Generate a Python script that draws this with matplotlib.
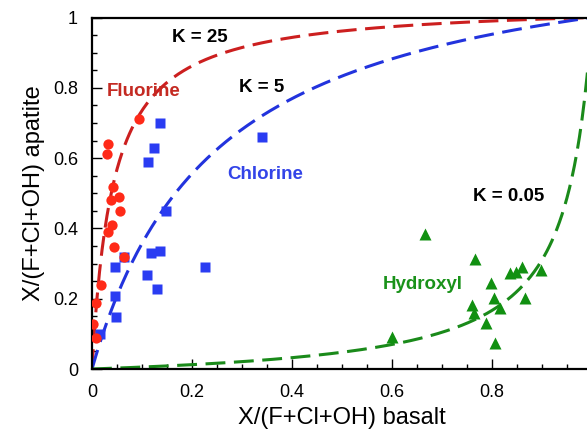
import matplotlib
matplotlib.use("Agg")
import matplotlib.pyplot as plt
import numpy as np

plt.rcParams['font.family'] = ['Liberation Sans', 'DejaVu Sans']

# partition coefficients for the dashed model curves
k_values = [25, 5, 0.05]
k_colors = ['#cc1f1f', '#2233dd', '#1a8a1a']

# Fluorine (red circles)
f_x = [0.094, 0.031, 0.029, 0.041, 0.053, 0.038, 0.055, 0.039, 0.032,
       0.043, 0.063, 0.018, 0.007, 0.001, 0.008]
f_y = [0.710, 0.640, 0.613, 0.518, 0.490, 0.480, 0.450, 0.410, 0.390,
       0.348, 0.320, 0.240, 0.187, 0.127, 0.088]

# Chlorine (blue squares)
cl_x = [0.135, 0.124, 0.111, 0.340, 0.147, 0.135, 0.118, 0.064, 0.046,
        0.226, 0.109, 0.129, 0.045, 0.048, 0.016]
cl_y = [0.700, 0.629, 0.589, 0.661, 0.450, 0.337, 0.330, 0.320, 0.289,
        0.289, 0.268, 0.227, 0.208, 0.147, 0.100]

# Hydroxyl (green triangles)
oh_x = [0.667, 0.766, 0.836, 0.849, 0.861, 0.899, 0.799, 0.804, 0.866,
        0.761, 0.765, 0.816, 0.789, 0.807, 0.601]
oh_y = [0.384, 0.313, 0.272, 0.275, 0.291, 0.282, 0.244, 0.203, 0.203,
        0.182, 0.160, 0.173, 0.130, 0.075, 0.092]

fig = plt.figure(figsize=(5.87, 4.34), dpi=100)
ax = fig.add_axes([92 / 587, 65 / 434, 500 / 587, 351.5 / 434])

xs = np.linspace(0, 1, 400)
for k, c in zip(k_values, k_colors):
    ax.plot(xs, k * xs / (1 + (k - 1) * xs), color=c, lw=2.2,
            ls=(0, (6.5, 2.8)), zorder=2)

ax.plot(oh_x, oh_y, '^', color='#119011', ms=8.5, mec='none', zorder=3)
ax.plot(cl_x, cl_y, 's', color='#2a3cf2', ms=6.8, mec='none', zorder=3)
ax.plot(f_x, f_y, 'o', color='#ff2a18', ms=7.4, mec='none', zorder=4)

lab = dict(fontsize=13.5, fontweight='bold', va='center')
ax.text(0.216, 0.943, 'K = 25', color='black', ha='center', **lab)
ax.text(0.34, 0.80, 'K = 5', color='black', ha='center', **lab)
ax.text(0.834, 0.49, 'K = 0.05', color='black', ha='center', **lab)
ax.text(0.03, 0.79, 'Fluorine', color='#c42a22', ha='left', **lab)
ax.text(0.27, 0.553, 'Chlorine', color='#3344e8', ha='left', **lab)
ax.text(0.582, 0.239, 'Hydroxyl', color='#1a921a', ha='left', **lab)

ax.set_xlim(0, 1)
ax.set_ylim(0, 1)
ticks = [0, 0.2, 0.4, 0.6, 0.8, 1]
ax.set_xticks(ticks)
ax.set_xticklabels(['0', '0.2', '0.4', '0.6', '0.8', ''])
ax.set_yticks(ticks)
ax.set_yticklabels(['0', '0.2', '0.4', '0.6', '0.8', '1'])
ax.set_xticks(np.arange(0, 1.001, 0.05), minor=True)
ax.set_yticks(np.arange(0, 1.001, 0.05), minor=True)
ax.tick_params(which='both', direction='in', width=1.0, labelsize=13)
ax.tick_params(which='major', length=7)
ax.tick_params(which='minor', length=3.5)
ax.tick_params(axis='x', pad=11)
ax.tick_params(axis='y', pad=10)
for s in ax.spines.values():
    s.set_linewidth(1.6)
ax.spines['right'].set_visible(False)

ax.set_xlabel('X/(F+Cl+OH) basalt', fontsize=17, labelpad=4)
ax.set_ylabel('X/(F+Cl+OH) apatite', fontsize=17, labelpad=6)

fig.savefig('out.png', dpi=100)
